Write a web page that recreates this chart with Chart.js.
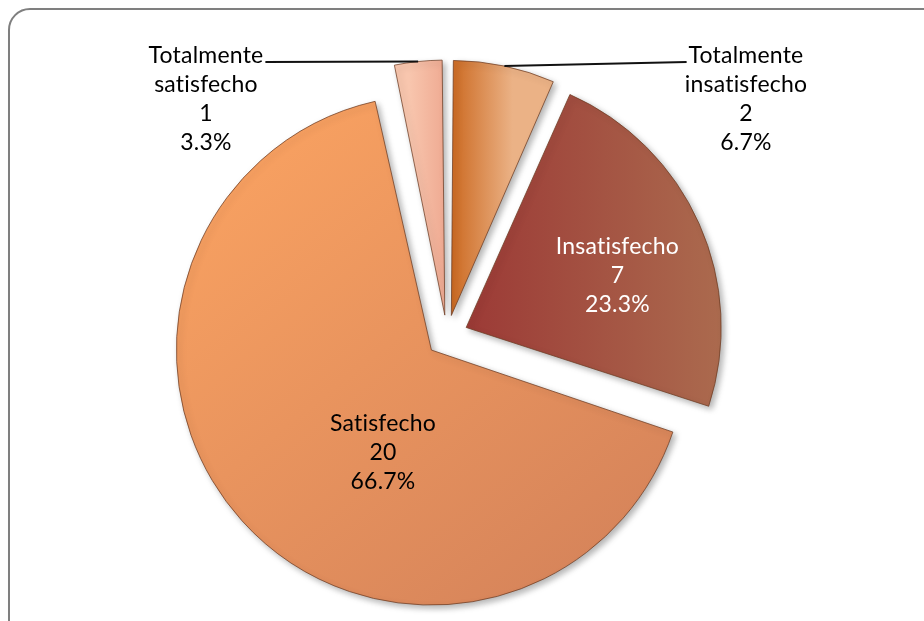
<!DOCTYPE html>
<html>
<head>
<meta charset="utf-8">
<script src="https://cdn.jsdelivr.net/npm/chart.js@4/dist/chart.umd.min.js"></script>
<style>
  html, body { margin: 0; padding: 0; background: #fff; overflow: hidden; }
  #frame {
    position: absolute; left: 8px; top: 8px; width: 940px; height: 640px;
    border: 2px solid #7f7f7f; border-radius: 22px;
    box-shadow: 2px 2px 3px rgba(0,0,0,0.2);
  }
  #satisfaccion { position: absolute; left: 0; top: 0; }
</style>
</head>
<body>
<div id="frame"></div>
<canvas id="satisfaccion" width="924" height="621"></canvas>
<script>
// survey answers, clockwise from 12 o'clock
const categories = ["Totalmente insatisfecho", "Insatisfecho", "Satisfecho", "Totalmente satisfecho"];
const counts = [2, 7, 20, 1];
const labelLines = [
  ["Totalmente", "insatisfecho"],
  ["Insatisfecho"],
  ["Satisfecho"],
  ["Totalmente", "satisfecho"],
];

const total = counts.reduce((a, b) => a + b, 0);
const R = 255;
const OFFSET = 84; // chart.js moves a slice offset/4 px

// gradient per slice, built around the chart centre
function sliceFill(context) {
  const chart = context.chart;
  const area = chart.chartArea;
  const fallback = ["#e0904e", "#a44c44", "#e8935c", "#f5bca4"][context.dataIndex];
  if (!area) return fallback;
  const c = chart.ctx;
  const cx = (area.left + area.right) / 2;
  const cy = (area.top + area.bottom) / 2;
  let g;
  switch (context.dataIndex) {
    case 0:
      g = c.createLinearGradient(cx, 0, cx + R * 0.24, 0);
      g.addColorStop(0, "#cc6a22");
      g.addColorStop(1, "#ebb286");
      return g;
    case 1:
      g = c.createLinearGradient(cx, 0, cx + R, 0);
      g.addColorStop(0, "#9c3a36");
      g.addColorStop(1, "#ab6a4e");
      return g;
    case 2:
      g = c.createLinearGradient(cx - R, cy - R, cx + R * 0.6, cy + R);
      g.addColorStop(0, "#fda562");
      g.addColorStop(1, "#d5835a");
      return g;
    default:
      g = c.createLinearGradient(cx - R * 0.14, 0, cx, 0);
      g.addColorStop(0, "#f8c6ae");
      g.addColorStop(1, "#efaa92");
      return g;
  }
}

// keep every exploded slice at the same radius
const evenRadius = {
  id: "evenRadius",
  afterDatasetUpdate(chart) {
    chart.getDatasetMeta(0).data.forEach(arc => {
      const fix = 1 - Math.sin(Math.min(Math.PI, arc.circumference));
      arc.outerRadius = R - (OFFSET / 4) * fix;
    });
  },
  beforeDatasetDraw(chart) {
    const c = chart.ctx;
    c.save();
    c.shadowColor = "rgba(0,0,0,0.3)";
    c.shadowBlur = 6;
    c.shadowOffsetX = 3;
    c.shadowOffsetY = 3;
  },
  afterDatasetDraw(chart) {
    chart.ctx.restore();
  },
};

// data labels: [angle deg from top, fraction of radius] for inside ones,
// fixed spots for the two outside ones with a leader line
const labelSpots = [
  { x: 746, y: 63, outside: true, side: "right", color: "#000" },
  { angle: 72.7, frac: 0.70, color: "#fff" },
  { angle: 207.3, frac: 0.547, color: "#000" },
  { x: 206, y: 63, outside: true, side: "left", color: "#000" },
];

const dataLabels = {
  id: "dataLabels",
  afterDraw(chart) {
    const c = chart.ctx;
    const arcs = chart.getDatasetMeta(0).data;
    const lh = 29;
    c.save();
    c.font = "23px Lato";
    c.letterSpacing = "0.2px"; // no "ti" ligature
    c.textAlign = "center";
    c.textBaseline = "alphabetic";
    arcs.forEach((arc, i) => {
      const spot = labelSpots[i];
      const pct = (counts[i] / total * 100).toFixed(1) + "%";
      const lines = labelLines[i].concat([String(counts[i]), pct]);
      let x, y;
      if (spot.outside) {
        x = spot.x;
        y = spot.y;
        // leader line to the outer edge of the slice
        const mid = (arc.startAngle + arc.endAngle) / 2;
        const shift = OFFSET / 4;
        const ex = arc.x + Math.cos(mid) * (shift + R);
        const ey = arc.y + Math.sin(mid) * (shift + R);
        const w = c.measureText(lines[0]).width;
        const sx = spot.side === "left" ? x + w / 2 + 2 : x - w / 2 - 2;
        c.beginPath();
        c.moveTo(sx, y - 1);
        c.lineTo(ex, ey);
        c.strokeStyle = "#111";
        c.lineWidth = 2;
        c.stroke();
        lines.forEach((t, k) => {
          c.fillStyle = spot.color;
          c.fillText(t, x, y + k * lh);
        });
      } else {
        const a = spot.angle * Math.PI / 180;
        x = arc.x + Math.sin(a) * R * spot.frac;
        y = arc.y - Math.cos(a) * R * spot.frac;
        const first = y - (lines.length - 2) * lh;
        lines.forEach((t, k) => {
          c.fillStyle = spot.color;
          c.fillText(t, x, first + k * lh);
        });
      }
    });
    c.restore();
  },
};

new Chart(document.getElementById("satisfaccion").getContext("2d"), {
  type: "pie",
  data: {
    labels: categories,
    datasets: [{
      data: counts,
      backgroundColor: sliceFill,
      borderColor: "rgba(110,60,35,0.75)",
      borderWidth: 1,
      offset: OFFSET,
    }],
  },
  options: {
    responsive: false,
    animation: false,
    events: [],
    radius: R,
    layout: { padding: { left: 150, right: 180, top: 51, bottom: 0 } },
    plugins: {
      legend: { display: false },
      tooltip: { enabled: false },
    },
  },
  plugins: [evenRadius, dataLabels],
});
</script>
</body>
</html>
